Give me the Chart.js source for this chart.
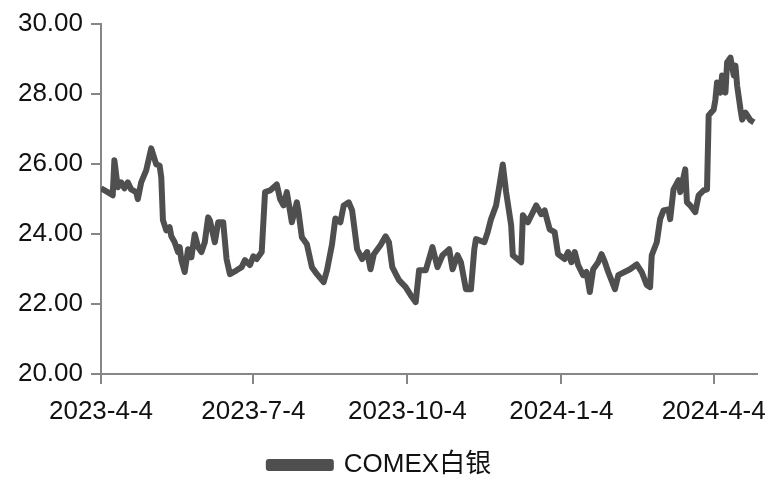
<!DOCTYPE html>
<html>
<head>
<meta charset="utf-8">
<script src="https://cdn.jsdelivr.net/npm/chart.js@4.4.1/dist/chart.umd.min.js"></script>
<style>
  html, body { margin: 0; padding: 0; background: #fff; }
  #wrap { width: 779px; height: 497px; }
</style>
</head>
<body>
<div id="wrap"><canvas id="silverChart" width="779" height="497"></canvas></div>
<script>
// days counted from 2023-4-4
const days = [0, 4, 7, 8, 10, 12, 14, 16, 18, 21, 22, 24, 27, 30, 33, 35, 36, 37, 39, 41,
  42, 44, 46, 47, 48, 50, 52, 54, 56, 58, 60, 62, 64, 65, 68, 70, 73, 75, 77, 81,
  84, 86, 89, 91, 93, 96, 98, 101, 105, 107, 109, 111, 113, 114, 117, 118, 120, 123, 126, 129,
  133, 135, 138, 140, 143, 145, 148, 150, 153, 156, 159, 161, 163, 167, 170, 172, 174, 178, 182, 185,
  188, 190, 194, 198, 201, 204, 208, 210, 213, 215, 218, 221, 223, 224, 229, 231, 233, 236, 238, 240,
  242, 245, 246, 251, 252, 255, 260, 263, 265, 268, 271, 273, 277, 279, 281, 283, 285, 288, 290, 292,
  294, 297, 299, 301, 303, 307, 309, 316, 320, 323, 326, 328, 329, 332, 334, 336, 339, 340, 342, 345,
  346, 349, 350, 352, 355, 357, 360, 362, 363, 366, 367, 368, 370, 371, 373, 374, 376, 378, 379, 380,
  382, 383, 385, 388, 390];

const silver = [25.30, 25.19, 25.10, 26.10, 25.33, 25.47, 25.30, 25.47, 25.27, 25.19, 24.99, 25.47, 25.81, 26.44, 25.98, 25.95, 25.61, 24.39, 24.10, 24.19,
  23.93, 23.76, 23.48, 23.62, 23.25, 22.91, 23.56, 23.33, 23.99, 23.62, 23.48, 23.76, 24.47, 24.39, 23.76, 24.33, 24.33, 23.28, 22.85, 22.96,
  23.05, 23.25, 23.11, 23.36, 23.28, 23.48, 25.19, 25.24, 25.41, 24.99, 24.81, 25.19, 24.62, 24.33, 24.90, 24.62, 23.90, 23.70, 23.05, 22.85,
  22.62, 22.96, 23.70, 24.44, 24.33, 24.81, 24.90, 24.67, 23.56, 23.28, 23.48, 22.99, 23.42, 23.68, 23.93, 23.76, 23.05, 22.68, 22.48, 22.25,
  22.05, 22.96, 22.96, 23.62, 23.05, 23.39, 23.56, 22.99, 23.39, 23.19, 22.42, 22.42, 23.56, 23.85, 23.76, 24.05, 24.42, 24.81, 25.38, 25.98,
  25.19, 24.25, 23.39, 23.19, 24.53, 24.33, 24.81, 24.56, 24.67, 24.13, 24.05, 23.42, 23.28, 23.48, 23.19, 23.48, 23.11, 22.82, 22.91, 22.34,
  22.99, 23.19, 23.42, 23.19, 22.91, 22.42, 22.82, 22.99, 23.13, 22.91, 22.54, 22.48, 23.39, 23.76, 24.42, 24.67, 24.70, 24.42, 25.27, 25.53,
  25.19, 25.84, 24.90, 24.81, 24.62, 25.10, 25.24, 25.27, 27.38, 27.55, 27.83, 28.32, 28.03, 28.52, 28.03, 28.89, 29.03, 28.52, 28.80, 28.23,
  27.55, 27.26, 27.46, 27.24, 27.18];

const tickDays = [0, 91, 183, 275, 366];
const tickLabels = ["2023-4-4", "2023-7-4", "2023-10-4", "2024-1-4", "2024-4-4"];

const LINE = "#4f4f4f";
const AXIS = "#868686";
const TEXT = "#111";
const FONT = "'Liberation Sans', 'Noto Sans CJK SC', sans-serif";

new Chart(document.getElementById("silverChart"), {
  type: "line",
  data: {
    datasets: [{
      label: "COMEX白银",
      data: days.map((d, i) => ({ x: d, y: silver[i] })),
      borderColor: LINE,
      backgroundColor: LINE,
      borderWidth: 6,
      pointRadius: 0,
      tension: 0,
      borderJoinStyle: "round"
    }]
  },
  options: {
    responsive: false,
    animation: false,
    layout: { padding: { top: 10, right: 19, bottom: 9, left: 0 } },
    plugins: {
      tooltip: { enabled: false },
      legend: {
        position: "bottom",
        labels: {
          color: TEXT,
          font: { family: FONT, size: 26 },
          boxWidth: 62,
          boxHeight: 6,
          padding: 8
        }
      }
    },
    scales: {
      x: {
        type: "linear",
        min: 0,
        max: 392,
        afterBuildTicks: scale => { scale.ticks = tickDays.map(v => ({ value: v })); },
        afterFit: scale => { scale.height = 70; },
        ticks: {
          color: TEXT,
          font: { family: FONT, size: 26 },
          padding: 12,
          maxRotation: 0,
          autoSkip: false,
          callback: value => tickLabels[tickDays.indexOf(value)]
        },
        grid: { drawOnChartArea: false, drawTicks: true, tickLength: 10, color: AXIS, lineWidth: 2 },
        border: { color: AXIS, width: 2 }
      },
      y: {
        min: 20,
        max: 30,
        afterFit: scale => { scale.width = 101; },
        ticks: {
          stepSize: 2,
          color: TEXT,
          font: { family: FONT, size: 26 },
          padding: 8,
          callback: v => v.toFixed(2)
        },
        grid: { drawOnChartArea: false, drawTicks: true, tickLength: 10, color: AXIS, lineWidth: 2 },
        border: { color: AXIS, width: 2 }
      }
    }
  }
});
</script>
</body>
</html>
